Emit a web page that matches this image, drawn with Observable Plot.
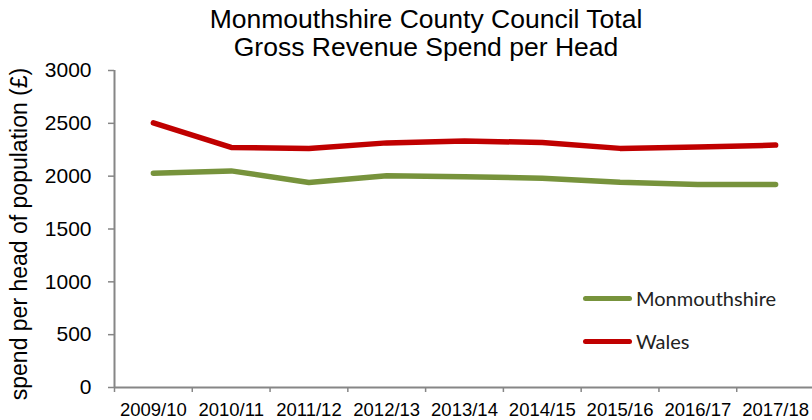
<!DOCTYPE html>
<html>
<head>
<meta charset="utf-8">
<script src="https://cdn.jsdelivr.net/npm/d3@7"></script>
<script src="https://cdn.jsdelivr.net/npm/@observablehq/plot@0.6"></script>
<style>
  body { margin: 0; background: #fff; }
  #wrap { position: relative; width: 812px; height: 420px; overflow: hidden; }
  #title { position: absolute; left: 0; width: 852px; top: 5px; text-align: center;
    font-family: "Liberation Sans", Arial, sans-serif; font-size: 26.5px; line-height: 28px; color: #000; }
  #ylabel { position: absolute; left: 19px; top: 234px; transform: translate(-50%, -50%) rotate(-90deg);
    white-space: nowrap; font-family: "Liberation Sans", Arial, sans-serif; font-size: 23px; color: #000; }
  #legend { position: absolute; left: 583px; top: 284px; font-family: Lato, "Open Sans", sans-serif;
    font-size: 20px; color: #222; }
  .row { display: flex; align-items: center; height: 28px; margin-bottom: 15px; }
  .sw { width: 49px; height: 5px; border-radius: 3px; margin-right: 4px; }
</style>
</head>
<body>
<div id="wrap">
  <div id="title">Monmouthshire County Council Total<br>Gross Revenue Spend per Head</div>
  <div id="ylabel">spend per head of population (£)</div>
  <div id="legend"></div>
</div>
<script>
const years = ["2009/10","2010/11","2011/12","2012/13","2013/14","2014/15","2015/16","2016/17","2017/18"];
const monmouthshire = [2028, 2050, 1940, 2003, 1994, 1981, 1942, 1922, 1921];
const wales = [2505, 2272, 2262, 2315, 2333, 2318, 2263, 2276, 2294];
const seriesNames = ["Monmouthshire", "Wales"];
const seriesColors = ["#77933C", "#C00000"];
const yTicks = [0, 500, 1000, 1500, 2000, 2500, 3000];

const data = [];
years.forEach((y, i) => {
  data.push({i, series: "Monmouthshire", value: monmouthshire[i]});
  data.push({i, series: "Wales", value: wales[i]});
});
const boundaries = d3.range(years.length + 1).map(k => k - 0.5);
const axisColor = "#868686";

const chart = Plot.plot({
  width: 812,
  height: 420,
  marginTop: 70,
  marginBottom: 33,
  marginLeft: 114,
  marginRight: -2,
  style: {fontFamily: "'Liberation Sans', Arial, sans-serif", fontSize: "19px", color: "#000", overflow: "visible"},
  x: {domain: [-0.5, years.length - 0.5], axis: null},
  y: {domain: [0, 3000], axis: null},
  color: {domain: seriesNames, range: seriesColors},
  marks: [
    Plot.axisY({ticks: yTicks, tickFormat: d => String(d), tickSize: 6, tickPadding: 17, stroke: axisColor,
      strokeWidth: 1.5, fontSize: 21, label: null}),
    Plot.axisX({ticks: boundaries, tickFormat: () => "", tickSize: 5, stroke: axisColor, strokeWidth: 1.5, label: null}),
    Plot.axisX({ticks: d3.range(years.length), tickFormat: i => years[i], tickSize: 0, tickPadding: 15, fontSize: 18.5, label: null}),
    Plot.ruleX([-0.5], {y1: 0, y2: 3000, stroke: axisColor, strokeWidth: 2}),
    Plot.ruleY([0], {stroke: axisColor, strokeWidth: 2}),
    Plot.line(data, {x: "i", y: "value", z: "series", stroke: "series", strokeWidth: 5.5,
      strokeLinecap: "round", strokeLinejoin: "round"})
  ]
});
document.getElementById("wrap").prepend(chart);

const legend = document.getElementById("legend");
seriesNames.forEach((n, k) => {
  const row = document.createElement("div");
  row.className = "row";
  row.innerHTML = `<div class="sw" style="background:${seriesColors[k]}"></div><span>${n}</span>`;
  legend.appendChild(row);
});
</script>
</body>
</html>
